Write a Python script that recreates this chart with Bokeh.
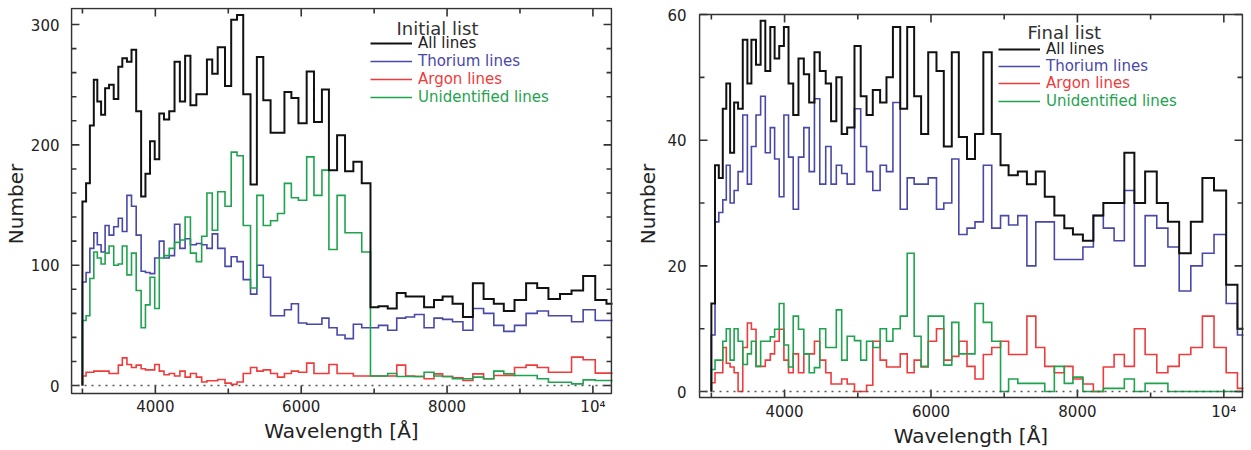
from bokeh.plotting import figure
from bokeh.layouts import row
from bokeh.models import (FixedTicker, Legend, LegendItem, Label, Range1d, Span)
from bokeh.embed import file_html
from bokeh.resources import INLINE

# ---------------- data (bin edges in Angstrom, counts per bin) ----------------
EDGES = [3000, 3050, 3102, 3156, 3204, 3256, 3311, 3365, 3429, 3492, 3547, 3610,
         3673, 3737, 3805, 3864, 3927, 3991, 4054, 4118, 4190, 4263, 4336, 4408,
         4481, 4562, 4635, 4707, 4780, 4855, 4955, 5040, 5120, 5205, 5305, 5392,
         5480, 5580, 5675, 5770, 5865, 5962, 6075, 6175, 6284, 6380, 6492, 6601,
         6715, 6830, 6950, 7060, 7186, 7310, 7432, 7554, 7685, 7821, 7939, 8075,
         8218, 8354, 8501, 8641, 8778, 8925, 9084, 9236, 9390, 9549, 9707, 9866,
         10032, 10186, 10330]

INIT_ALL = [153, 168, 216, 254, 236, 225, 247, 250, 238, 265,
            272, 269, 279, 228, 157, 176, 203, 188, 226, 221,
            228, 269, 236, 274, 233, 242, 242, 271, 259, 281,
            249, 304, 308, 242, 167, 273, 237, 210, 210, 244,
            239, 218, 261, 219, 246, 179, 208, 178, 186, 168,
            65, 66, 64, 77, 74, 74, 65, 71, 74, 68, 57, 85,
            72, 68, 62, 71, 85, 81, 72, 76, 79, 91, 71, 68]
INIT_TH = [86, 94, 114, 127, 117, 111, 133, 125, 132, 139,
           128, 158, 149, 125, 95, 94, 93, 106, 120, 106,
           108, 134, 114, 122, 117, 118, 117, 114, 126, 114,
           99, 107, 103, 88, 76, 100, 90, 58, 58, 63,
           68, 52, 51, 51, 56, 48, 42, 39, 51, 48,
           48, 50, 46, 56, 57, 59, 48, 56, 55, 53, 46, 64,
           60, 50, 45, 50, 60, 62, 58, 58, 53, 63, 54, 54]
INIT_AR = [8, 11, 11, 12, 12, 12, 12, 10, 10, 17,
           23, 17.5, 15, 17, 14, 13, 13, 17.5, 12, 9,
           10, 8, 12, 7, 10, 7, 3, 4, 4, 5,
           2, 1, 3, 10, 15, 12, 13, 10, 7, 10,
           12, 11, 18.6, 10, 10, 17.5, 10, 10, 8, 8,
           8, 8, 8, 17, 8, 7.5, 5.6, 9.7, 7.5, 6.4, 4.2, 9.7,
           5.6, 8.3, 8.3, 15, 17, 15, 11, 11, 23.6, 21.4, 10.3, 10.3]
INIT_UN = [54, 58, 89, 111, 106, 101, 110, 116, 100, 101,
           116, 92, 110, 79, 48, 67, 90, 64, 106, 108,
           114, 119, 121, 140, 110, 103, 124, 160, 129, 161,
           149, 194, 191, 133, 81, 158, 133, 137, 143, 168,
           156, 154, 190, 158, 179, 113, 158, 127, 127, 111,
           8, 8, 10, 7.5, 7.5, 7.5, 11, 8, 7.5, 5.6, 5.6, 7,
           5.6, 12, 9.7, 8.3, 8.3, 5.6, 2.8, 2.8, 1.4, 4.7, 4.2, 4.2]

FIN_ALL = [14, 36, 34, 45, 49, 38, 46, 45, 56, 49,
           56, 52, 59, 51, 58, 53, 55, 58, 49, 44,
           53, 50.5, 46, 54, 51, 49, 43, 50, 41, 42,
           55, 47, 44, 48, 46, 50, 58, 45, 58, 47,
           41, 54, 51, 39, 54, 40.5, 37, 41, 54, 41,
           36, 34.4, 35, 33, 35, 31, 28, 26, 25, 24, 28, 30,
           30, 38, 30, 35, 30, 27, 22, 27, 34, 32, 17, 10]
FIN_TH = [9, 27, 28.5, 30.5, 36, 30, 32, 35, 44, 33,
          39, 44, 47, 38, 42, 37, 31, 44, 37.3, 29,
          37.3, 42, 35, 46.6, 33, 39, 33, 36, 34.7, 33,
          45, 39, 35, 32, 36, 35, 46, 29, 34, 33,
          33, 34, 29, 30, 37, 25, 26, 27, 36, 26,
          28, 26.5, 28, 20, 27, 27, 21, 21, 21, 23, 28, 26,
          24, 32, 20, 28, 26, 23, 16, 20, 22, 25, 14, 9]
FIN_AR = [1.4, 3, 3, 7, 4.5, 3.9, 3, 0, 7, 10.9,
          9.9, 4, 4, 5, 6, 8, 9.9, 5, 3, 6,
          3, 6, 6, 8, 5, 3, 1.2, 1.2, 2, 1.2,
          0, 0, 1, 8, 5, 3.9, 3.9, 6, 3, 5,
          3.9, 8, 10, 5, 5.6, 8, 4, 2, 5.9, 7,
          8, 5.9, 5.9, 12, 7, 4, 3, 4, 2, 1.2, 0, 3.9,
          5.9, 4, 10, 5.9, 3, 4, 5.9, 7, 12, 7, 3, 0.5]
FIN_UN = [3.5, 5, 5, 8, 10, 5, 10, 8, 4.3, 6,
          8, 4, 8, 8, 8.7, 9.9, 14, 7.4, 3.9, 12,
          9.9, 6, 3, 3.8, 10, 7, 7, 13, 5, 8.8,
          8.1, 5, 8, 7, 10, 8, 10, 12, 22, 8.8,
          4, 12, 12, 4.2, 11, 6, 6, 14, 11, 8,
          0, 2, 1.3, 1.3, 1.3, 0, 4, 1.3, 2.3, 0, 0, 0.5,
          0.5, 2, 0, 1.3, 1.3, 0, 0, 0, 0, 0, 0, 0]

SERIES_LABELS = ["All lines", "Thorium lines", "Argon lines", "Unidentified lines"]
PANEL_TITLES = ["Initial list", "Final list"]
X_MAJOR = [4000, 6000, 8000, 10000]
X_MINOR = [3000, 5000, 7000, 9000]
X_OVERRIDES = {10000: "10\u2074"}
Y1_MAJOR = [0, 100, 200, 300]
Y1_MINOR = [20, 40, 60, 80, 120, 140, 160, 180, 220, 240, 260, 280]
Y2_MAJOR = [0, 20, 40, 60]
Y2_MINOR = [10, 30, 50]

# ---------------- styles / geometry ----------------
FONT = "DejaVu Sans"
COLORS = ["#111111", "#4848a8", "#ee3b3b", "#1fa34e"]
WIDTHS = [2.0, 1.6, 1.6, 1.6]
FRAME = "#333333"
TXT = "#222222"
MAJ_LEN, MIN_LEN = 8, 5
TOP, BOTTOM = 7, 50            # same for both figures (frames get aligned)
FH = 450 - TOP - BOTTOM


def style_axis(ax, major, minor, overrides=None):
    ax.ticker = FixedTicker(ticks=major, minor_ticks=minor)
    ax.major_tick_in = 0
    ax.major_tick_out = 0
    ax.minor_tick_in = 0
    ax.minor_tick_out = 0
    ax.axis_line_color = None
    ax.major_label_text_font = FONT
    ax.major_label_text_font_size = "15px"
    ax.major_label_text_color = TXT
    if overrides:
        ax.major_label_overrides = overrides


def make_panel(data, title, box_x, box_y, box_px, ymaj, ymin, width, fx0, bl, br,
               xstand, ystand, legend_y0, legend_dy, title_xy):
    """box_px = (left, right, top, bottom) pixel edges of the drawn box (page coords)."""
    fw = width - bl - br
    frame_l = fx0 + bl
    frame_r = frame_l + fw
    sx = (box_x[1] - box_x[0]) / (box_px[1] - box_px[0])
    sy = (box_y[1] - box_y[0]) / (box_px[3] - box_px[2])
    xr = (box_x[0] - (box_px[0] - frame_l) * sx, box_x[1] + (frame_r - box_px[1]) * sx)
    yr = (box_y[0] - (TOP + FH - box_px[3]) * sy, box_y[1] + (box_px[2] - TOP) * sy)

    p = figure(width=width, height=450, output_backend="svg", toolbar_location=None,
               title=None, x_range=Range1d(*xr), y_range=Range1d(*yr),
               min_border_left=bl, min_border_right=br,
               min_border_top=TOP, min_border_bottom=BOTTOM)
    p.xgrid.grid_line_color = None
    p.ygrid.grid_line_color = None
    p.outline_line_color = None
    p.background_fill_color = "white"
    p.border_fill_color = "white"

    style_axis(p.xaxis[0], X_MAJOR, X_MINOR, X_OVERRIDES)
    style_axis(p.yaxis[0], ymaj, ymin)
    p.xaxis.axis_label = "Wavelength [\u00c5]"
    p.yaxis.axis_label = "Number"
    for ax in (p.xaxis[0], p.yaxis[0]):
        ax.axis_label_text_font = FONT
        ax.axis_label_text_font_size = "20px"
        ax.axis_label_text_font_style = "normal"
        ax.axis_label_text_color = TXT
    p.xaxis.major_label_standoff = xstand[0]
    p.xaxis.axis_label_standoff = xstand[1]
    p.yaxis.major_label_standoff = ystand[0]
    p.yaxis.axis_label_standoff = ystand[1]

    zero = Span(location=0, dimension="width", line_color="#555555",
                line_dash="2 5", line_width=1.5)
    p.add_layout(zero)

    xs = [EDGES[0]] + EDGES
    rmap = {}
    for i in [1, 2, 3, 0]:
        vals = data[i]
        ys = [0] + list(vals) + [vals[-1]]
        rmap[i] = p.step(x=xs, y=ys, mode="after", line_color=COLORS[i],
                         line_width=WIDTHS[i], line_join="miter")
    renderers = [rmap[i] for i in range(4)]

    # frame box and inward ticks on all four sides
    p.quad(left=[box_x[0]], right=[box_x[1]], bottom=[box_y[0]], top=[box_y[1]],
           fill_color=None, line_color=FRAME, line_width=1.6)
    txs, tys = [], []
    for ticks, ln in ((X_MAJOR, MAJ_LEN), (X_MINOR, MIN_LEN)):
        for t in ticks:
            txs += [[t, t], [t, t]]
            tys += [[box_y[0], box_y[0] + ln * sy], [box_y[1], box_y[1] - ln * sy]]
    for ticks, ln in ((ymaj, MAJ_LEN), (ymin, MIN_LEN)):
        for t in ticks:
            txs += [[box_x[0], box_x[0] + ln * sx], [box_x[1], box_x[1] - ln * sx]]
            tys += [[t, t], [t, t]]
    p.multi_line(xs=txs, ys=tys, line_color=FRAME, line_width=1.6)

    box = 24
    for i, lab in enumerate(SERIES_LABELS):
        yc = legend_y0 + legend_dy * i            # page y of item centre
        lg = Legend(items=[LegendItem(label=lab, renderers=[renderers[i]])],
                    location=(box_px[0] + 299 - frame_l, TOP + FH - yc - box / 2),
                    orientation="vertical", padding=0, margin=0, spacing=0,
                    glyph_width=42, glyph_height=box, label_height=box,
                    label_standoff=6, label_width=10,
                    border_line_color=None, background_fill_alpha=0,
                    label_text_font=FONT, label_text_font_size="15px",
                    label_text_color=COLORS[i] if i else TXT)
        p.add_layout(lg)

    p.add_layout(Label(x=title_xy[0] - frame_l, y=TOP + FH - title_xy[1],
                       x_units="screen", y_units="screen", text=title,
                       text_font=FONT, text_font_size="18px", text_color="#333333",
                       text_baseline="middle"))
    return p


p1 = make_panel([INIT_ALL, INIT_TH, INIT_AR, INIT_UN], PANEL_TITLES[0],
                (2850, 10255), (-6.6, 313.3), (68, 611, 8, 393),
                Y1_MAJOR, Y1_MINOR, 625, 0, 67, 13, (-3, 0), (11, 0),
                43.3, 17.8, (393, 28))
p2 = make_panel([FIN_ALL, FIN_TH, FIN_AR, FIN_UN], PANEL_TITLES[1],
                (2838, 10255), (-0.95, 60), (699, 1242, 14, 397),
                Y2_MAJOR, Y2_MINOR, 626, 625, 73, 8, (2, 0), (12, 4),
                49, 17.2, (1027, 31.5))

layout = row(p1, p2, spacing=0)
open("out.html", "w").write(file_html(layout, INLINE))
